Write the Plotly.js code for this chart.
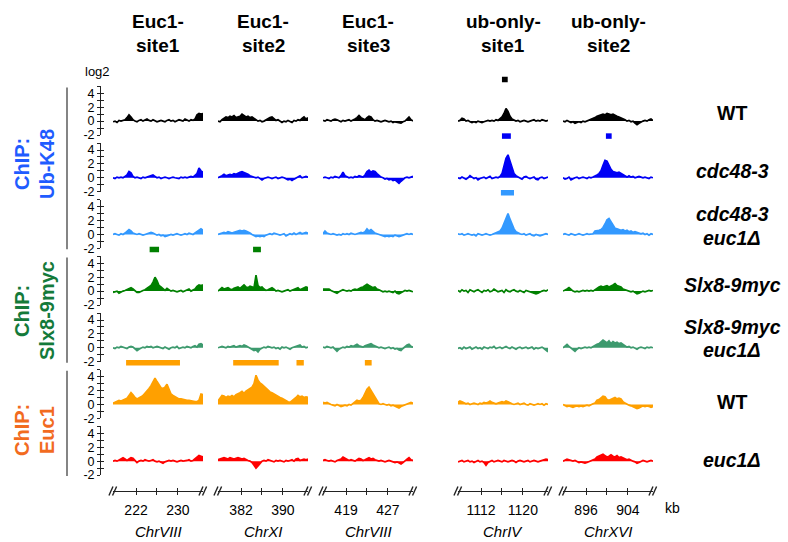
<!DOCTYPE html>
<html><head><meta charset="utf-8">
<script src="https://cdn.plot.ly/plotly-3.0.1.min.js"></script>
<style>html,body{margin:0;padding:0;background:#fff}#chart{width:788px;height:542px}</style>
</head><body><div id="chart"></div>
<script>
// ---------- data ----------
const siteHeadTop = ['Euc1-','Euc1-','Euc1-','ub-only-','ub-only-'];
const siteHeadBottom = ['site1','site2','site3','site1','site2'];
const chromosomes = ['ChrVIII','ChrXI','ChrVIII','ChrIV','ChrXVI'];
const tickLow  = [222, 382, 419, 1112, 896];
const tickHigh = [230, 390, 427, 1120, 904];
const windowStart = [217.6, 377.6, 414.6, 1107.6, 891.6];
const windowEnd   = [234.8, 394.8, 431.8, 1124.8, 908.8];

const trackLabels = [['WT'],['cdc48-3'],['cdc48-3','euc1Δ'],['Slx8-9myc'],['Slx8-9myc','euc1Δ'],['WT'],['euc1Δ']];
const trackItalic = [false,true,true,true,true,false,true];
const trackColors = ['#000000','#0000f5','#3399ff','#008000','#3d9a6e','#ffa000','#ff0000'];
const groupLabels = [['ChIP:','Ub-K48'],['ChIP:','Slx8-9myc'],['ChIP:','Euc1']];
const groupColors = ['#1f5cff','#147a3a','#f26b1f'];

// log2 ChIP signal per track, one array per site (site1..site5 order as above)
const ub_WT = [
 [-0.1,0.0,-0.2,0.1,0.0,0.1,0.2,0.5,0.9,0.6,0.2,0.0,-0.1,0.1,0.2,0.0,0.1,0.3,0.1,0.0,0.2,0.1,-0.1,0.0,0.1,0.0,-0.1,0.1,0.2,0.0,0.1,-0.1,0.0,0.2,0.1,0.0,0.3,0.1,0.0,0.2,0.1,0.3,0.9,1.1,1.0,1.1],
 [0.0,-0.1,0.2,0.4,0.6,0.5,0.7,0.6,0.8,0.5,0.6,0.7,1.0,0.8,0.6,0.7,0.5,0.6,0.4,0.2,0.0,0.1,-0.1,0.0,0.2,0.4,0.5,0.6,0.3,0.1,0.2,0.0,-0.2,0.0,-0.1,0.1,0.0,-0.2,0.1,0.0,0.2,0.1,0.4,0.6,0.3,0.5],
 [0.1,0.0,0.2,0.1,0.0,0.2,0.3,0.2,0.0,-0.1,0.1,0.0,0.1,0.2,0.0,0.1,0.3,0.5,0.8,0.5,0.3,0.2,0.5,0.7,0.6,0.2,0.0,0.1,0.0,-0.1,0.0,0.1,0.0,-0.1,0.0,-0.2,-0.1,-0.2,-0.3,-0.3,-0.1,0.0,0.3,0.6,0.2,0.0],
 [0.0,0.1,0.4,0.3,0.0,0.1,-0.1,-0.2,-0.1,-0.2,0.0,-0.1,-0.2,-0.1,0.0,0.1,0.0,0.1,0.0,0.2,0.1,0.3,0.6,1.1,1.8,1.4,0.7,0.3,0.1,0.0,0.1,-0.1,0.0,0.1,0.0,-0.1,0.0,0.1,0.2,0.0,0.1,0.0,0.2,0.1,0.0,0.1],
 [0.0,-0.1,0.1,0.0,-0.2,-0.1,-0.3,-0.2,-0.1,-0.2,0.0,-0.1,0.0,0.1,0.2,0.4,0.5,0.7,0.8,0.9,1.0,0.9,1.1,1.0,0.9,1.0,0.8,0.7,0.6,0.5,0.3,0.2,0.0,0.1,-0.1,0.0,-0.3,-0.5,-0.3,-0.1,0.0,0.1,0.0,0.2,0.3,0.1]
];
const ub_cdc48 = [
 [0.0,-0.1,0.1,0.0,0.1,0.0,0.2,0.4,0.9,0.7,0.2,0.0,0.1,0.0,-0.1,0.1,0.0,0.1,0.2,0.3,0.4,0.2,0.0,0.1,-0.1,0.0,0.1,0.0,-0.1,0.0,0.1,0.0,0.0,-0.1,0.1,0.0,0.1,0.0,0.1,0.2,0.1,0.3,0.6,1.4,1.0,0.8],
 [0.0,0.1,0.3,0.5,0.3,0.4,0.5,0.4,0.6,0.5,0.7,0.8,0.9,0.8,0.6,0.5,0.3,0.2,0.1,0.0,0.1,-0.1,-0.3,-0.1,0.0,0.1,0.0,-0.1,0.0,0.1,-0.1,0.0,0.1,0.0,-0.2,-0.3,-0.2,-0.4,-0.2,0.0,0.1,0.3,0.0,0.1,0.2,0.1],
 [0.0,0.1,0.0,-0.1,0.1,0.0,0.2,0.1,0.0,0.3,0.8,0.3,0.1,0.0,0.1,0.0,0.2,0.1,0.3,0.2,0.1,0.4,0.9,1.1,0.8,1.0,0.9,0.6,0.3,0.1,0.0,-0.2,-0.1,-0.3,-0.2,-0.4,-0.3,-0.6,-0.8,-0.5,-0.2,0.0,0.1,0.0,0.1,0.2],
 [0.0,-0.1,0.1,0.0,-0.2,0.0,0.3,0.1,-0.1,0.0,-0.3,-0.1,0.0,0.1,-0.1,0.0,0.2,-0.1,0.0,0.1,0.0,0.2,0.6,1.6,2.8,3.3,2.4,1.3,0.6,0.3,0.1,0.0,-0.2,0.1,0.2,0.0,-0.1,0.0,0.1,-0.2,-0.3,0.0,0.1,-0.1,0.0,0.1],
 [0.0,-0.2,-0.1,0.1,-0.3,-0.1,0.0,0.1,-0.1,0.0,0.1,0.0,-0.1,0.1,0.0,0.1,0.2,0.4,0.6,1.0,1.8,2.5,2.4,1.7,1.2,0.9,0.8,0.7,0.8,0.6,0.4,0.2,0.1,0.3,0.1,0.2,0.0,0.1,0.2,0.1,0.0,0.1,0.0,-0.1,0.1,0.0]
];
const ub_cdc48_euc1 = [
 [0.0,0.1,0.0,-0.1,0.1,0.0,0.2,0.4,0.7,0.5,0.2,0.1,0.0,0.1,0.0,-0.1,0.0,0.1,0.2,0.3,0.2,0.0,-0.1,0.0,-0.2,-0.1,-0.3,-0.2,-0.1,0.0,-0.1,0.0,0.1,0.0,-0.1,0.0,0.1,0.0,0.2,0.1,0.0,0.2,0.4,0.7,0.8,0.6],
 [0.0,0.1,0.2,0.3,0.2,0.4,0.3,0.2,0.3,0.4,0.5,0.6,0.5,0.6,0.5,0.4,0.2,0.0,-0.2,-0.3,-0.2,-0.3,-0.2,-0.3,-0.1,0.0,0.1,0.0,0.2,0.1,0.0,-0.1,0.0,0.1,-0.2,0.0,0.1,0.0,0.2,0.0,0.1,0.3,0.1,0.2,0.3,0.2],
 [0.1,0.5,0.2,0.1,0.0,0.1,0.0,-0.1,0.0,-0.1,0.1,0.0,0.1,0.0,0.2,0.1,0.0,0.1,0.2,0.3,0.2,0.4,0.8,0.5,0.7,0.4,0.2,0.1,0.0,-0.1,-0.2,-0.3,-0.2,-0.3,-0.2,-0.3,-0.1,-0.2,-0.3,-0.2,-0.1,0.0,0.1,0.0,0.1,0.0],
 [0.1,0.0,0.1,-0.1,0.0,0.1,0.0,-0.1,0.0,-0.2,0.1,0.0,-0.1,0.0,0.1,0.0,-0.1,0.0,0.1,0.2,0.3,0.5,0.9,1.6,2.5,3.0,2.2,1.4,0.8,0.4,0.2,0.1,0.0,0.1,-0.1,0.0,0.1,-0.1,-0.2,0.0,-0.1,-0.2,-0.1,0.0,0.1,0.0],
 [0.0,0.1,0.0,-0.1,0.1,0.0,-0.1,0.0,0.1,0.0,-0.1,0.0,0.1,0.0,0.0,0.1,0.5,0.5,0.6,0.7,1.0,1.5,2.1,2.3,1.8,1.2,0.9,0.8,0.7,0.6,0.7,0.5,0.6,0.4,0.5,0.3,0.4,0.3,0.2,0.1,0.2,0.0,0.1,-0.1,0.1,0.0]
];
const slx8 = [
 [-0.2,-0.1,0.0,-0.3,-0.1,0.0,0.1,0.2,0.3,0.5,0.3,0.0,-0.2,-0.2,0.0,0.1,0.2,0.4,0.6,0.8,1.3,2.0,1.5,0.8,0.6,0.3,0.1,0.4,0.2,0.0,0.1,0.0,-0.1,0.0,0.1,-0.1,0.0,0.1,0.3,0.0,0.2,0.3,0.7,0.9,0.8,0.9],
 [0.0,0.3,0.5,0.3,0.4,0.5,0.3,0.2,0.4,0.5,0.6,0.4,0.7,0.9,0.6,0.5,0.7,0.6,0.5,2.3,0.8,0.5,0.6,0.3,0.1,0.2,0.4,0.5,0.3,0.0,0.1,0.0,-0.1,0.0,0.1,0.2,0.0,0.1,0.3,0.4,0.5,0.2,0.3,0.5,0.6,0.5],
 [0.3,0.3,0.2,0.3,0.1,0.0,-0.1,-0.3,-0.1,0.0,0.2,0.1,0.0,0.1,0.0,0.2,0.3,0.2,0.4,0.5,0.6,0.8,1.0,0.8,0.7,0.5,0.6,0.3,0.2,0.0,-0.1,0.0,-0.1,0.0,-0.1,-0.2,0.0,-0.3,-0.4,-0.2,0.0,0.1,0.0,0.1,0.0,-0.1],
 [0.1,-0.1,0.2,0.0,0.1,-0.2,0.2,0.0,-0.1,0.1,0.2,0.0,-0.2,0.1,0.0,0.2,-0.1,0.0,0.3,0.1,-0.1,0.0,0.1,-0.2,0.2,0.0,-0.1,0.1,0.2,0.0,-0.1,0.1,0.0,-0.2,0.1,0.0,-0.1,-0.2,-0.3,-0.4,-0.3,-0.1,0.0,0.1,0.0,0.2],
 [0.0,0.1,0.3,0.5,0.2,0.0,-0.1,0.0,-0.1,0.0,0.1,0.0,0.1,0.0,0.1,0.0,0.2,0.5,0.6,0.7,0.6,0.7,0.8,0.6,0.7,0.9,1.1,0.8,0.7,0.6,0.3,0.2,0.1,0.0,-0.1,0.0,-0.2,-0.4,-0.3,-0.1,0.0,-0.1,0.0,0.1,0.0,0.1]
];
const slx8_euc1 = [
 [0.0,-0.1,0.1,0.0,0.2,0.1,0.0,-0.1,0.1,0.2,0.1,-0.1,-0.4,-0.2,0.0,0.1,0.0,0.2,0.1,0.2,0.0,0.1,0.2,0.1,0.0,-0.1,0.1,0.0,-0.2,0.0,0.1,0.0,0.2,-0.1,0.0,0.1,0.0,0.2,0.1,0.0,0.2,0.3,0.1,0.5,0.6,0.4],
 [0.0,0.1,0.2,0.1,0.0,0.2,0.1,0.2,0.3,0.1,0.2,0.3,0.2,0.4,0.3,0.1,0.0,-0.2,-0.4,-0.3,-0.6,-0.2,0.0,0.1,0.0,0.2,0.1,0.0,0.1,-0.1,0.0,-0.2,0.1,0.0,0.1,0.0,-0.2,0.0,0.1,0.2,0.3,0.4,0.1,0.2,0.0,0.1],
 [0.1,0.0,0.2,0.1,0.0,0.1,-0.2,-0.5,-0.2,0.0,0.1,0.0,0.2,0.1,0.3,0.2,0.3,0.5,0.3,0.2,0.1,0.3,0.4,0.5,0.6,0.4,0.3,0.1,0.0,0.1,0.0,-0.1,0.0,0.1,-0.1,0.0,-0.2,-0.1,-0.3,-0.4,-0.1,0.2,0.4,0.5,0.2,0.1],
 [-0.1,0.0,-0.2,0.1,-0.1,0.0,0.1,-0.2,0.0,0.1,-0.1,0.0,-0.2,0.1,0.0,-0.1,0.1,0.0,0.2,-0.1,0.0,0.1,-0.1,0.0,0.2,0.0,-0.1,0.1,0.0,-0.2,0.0,0.1,-0.1,0.0,0.1,-0.1,0.0,0.1,-0.2,0.0,-0.1,0.0,0.1,-0.1,-0.3,-0.6],
 [0.0,0.2,0.5,0.2,0.0,-0.2,-0.5,-0.2,0.0,-0.1,0.0,0.1,0.0,0.1,0.0,0.2,0.3,0.5,0.6,0.8,1.1,0.9,0.7,1.0,0.6,0.9,0.7,0.8,0.6,0.7,0.5,0.3,0.1,0.2,0.0,0.1,-0.1,-0.2,0.0,0.1,0.0,-0.1,0.1,0.0,0.1,0.0]
];
const euc1_WT = [
 [0.2,0.3,0.4,0.6,0.5,0.6,0.7,0.9,1.3,1.7,1.4,1.0,0.8,0.9,1.1,1.3,1.6,1.9,2.3,2.7,3.2,3.8,3.3,2.9,2.4,2.3,2.5,2.9,2.2,1.5,1.3,1.1,0.9,0.8,0.8,0.7,0.6,0.6,0.6,0.5,0.5,0.4,0.4,0.6,1.5,1.4],
 [0.5,0.9,1.3,1.2,1.0,1.2,1.1,1.3,1.1,1.4,1.5,1.7,1.9,1.6,1.9,2.1,2.2,2.5,3.0,4.2,3.5,3.1,2.9,2.6,2.3,2.0,1.8,1.7,1.5,1.3,1.1,1.0,0.9,0.7,0.5,0.4,0.3,0.5,0.8,1.0,1.3,1.1,1.2,1.0,1.1,1.0],
 [0.3,0.2,0.3,0.1,0.0,-0.1,-0.2,0.0,-0.1,-0.3,-0.2,-0.1,-0.2,0.0,-0.1,0.1,0.3,0.6,0.5,0.6,1.0,1.6,2.2,2.5,2.0,1.4,1.0,0.4,0.1,0.0,0.1,0.0,-0.1,0.0,-0.2,-0.1,-0.2,-0.3,-0.5,-0.3,-0.2,-0.1,0.0,0.1,0.3,0.2],
 [0.3,0.5,0.4,0.2,0.1,0.2,0.0,0.1,0.2,0.1,0.0,0.2,0.1,0.3,0.2,0.3,0.5,0.3,0.2,0.1,0.2,0.3,0.4,0.3,0.5,0.4,0.2,0.1,0.0,0.1,0.2,0.0,0.1,0.2,0.0,-0.1,0.1,0.0,-0.1,0.0,0.1,0.0,0.1,-0.1,0.1,0.0],
 [0.0,-0.1,-0.3,-0.2,-0.3,-0.4,-0.3,-0.2,-0.3,-0.2,-0.3,-0.2,-0.1,-0.2,0.0,0.1,0.2,0.6,0.7,1.0,1.2,1.1,0.7,0.6,0.7,0.9,1.0,0.8,0.9,0.8,0.4,0.2,0.0,-0.1,-0.2,-0.3,-0.4,-0.6,-0.5,-0.3,-0.2,-0.3,-0.2,-0.3,-0.4,-0.3]
];
const euc1_euc1 = [
 [0.0,0.1,0.0,0.2,0.3,0.5,0.3,0.1,0.3,0.5,0.4,0.1,-0.2,0.0,0.1,0.0,0.2,0.1,0.0,0.1,0.2,0.0,-0.1,0.0,-0.2,-0.3,-0.1,0.0,0.1,0.0,0.1,0.0,-0.1,0.0,0.1,0.0,0.0,0.1,0.2,0.0,0.1,0.3,0.5,0.8,0.7,0.6],
 [0.2,0.3,0.4,0.5,0.4,0.3,0.5,0.4,0.3,0.4,0.5,0.4,0.3,0.4,0.2,0.1,0.0,-0.2,-0.6,-1.0,-0.7,-0.3,0.0,0.1,0.0,0.2,0.1,0.0,-0.1,0.1,0.0,0.1,0.0,-0.1,0.1,0.0,0.1,0.2,0.0,0.3,0.4,0.1,0.2,0.3,0.2,0.3],
 [0.1,0.2,0.1,0.0,0.1,0.0,-0.1,0.1,0.2,0.3,0.6,0.4,0.2,0.1,0.2,0.1,0.0,0.2,0.4,0.3,0.1,0.2,0.4,0.5,0.3,0.4,0.2,0.1,0.0,0.1,0.0,-0.1,0.0,0.1,0.0,-0.1,-0.2,-0.1,-0.3,-0.4,-0.2,0.1,0.3,0.5,0.2,0.1],
 [-0.1,0.0,0.1,-0.1,0.0,0.1,-0.1,0.0,-0.2,0.0,0.1,-0.1,0.0,-0.2,-0.6,-0.2,0.0,0.1,-0.1,0.0,0.1,0.0,-0.1,0.1,0.0,-0.1,0.0,0.1,0.0,-0.2,0.0,0.1,0.0,-0.1,0.0,0.1,-0.1,0.0,0.1,0.0,-0.1,0.0,0.1,0.2,0.3,0.2],
 [0.0,0.1,0.3,0.2,0.1,0.0,0.1,-0.1,-0.2,-0.1,-0.2,-0.3,-0.2,-0.1,0.0,0.1,0.3,0.6,0.7,0.8,1.0,0.8,0.6,0.7,0.9,0.7,0.6,0.8,0.5,0.6,0.5,0.4,0.2,0.3,0.1,0.0,-0.1,-0.3,-0.2,0.0,0.1,0.0,-0.1,0.0,0.1,0.0]
];
const tracks = [ub_WT, ub_cdc48, ub_cdc48_euc1, slx8, slx8_euc1, euc1_WT, euc1_euc1];

// enriched regions (kb)
const regionTrack = [0, 1, 1, 2, 3, 3, 5, 5, 5, 5];
const regionSite  = [3, 3, 4, 3, 0, 1, 0, 1, 1, 2];
const regionStart = [1116.0, 1116.0, 899.8, 1115.8, 224.6, 384.3, 220.1, 380.5, 392.6, 422.6];
const regionEnd   = [1117.1, 1117.7, 900.9, 1118.3, 226.4, 385.8, 230.4, 389.2, 394.0, 423.9];

// ---------- layout geometry (pixels) ----------
const W = 788, H = 542;
const colLeft = [113, 218, 323, 458, 563], colWidth = 90;
const rowTop = r => 86.4 + 56.67 * r;   // y = 5
const rowBot = r => 135 + 56.67 * r;    // y = -2
const yAxisX = 100, xAxisY = 491;
const px = x => x / W, py = y => 1 - y / H;
const xid = c => c === 0 ? 'x' : 'x' + (c + 1);
const yid = r => r === 0 ? 'y' : 'y' + (r + 1);
const FONT = 'Liberation Sans, Arial, Helvetica, sans-serif';
const axColor = '#222';

const layout = {
  width: W, height: H, margin: {l: 0, r: 0, t: 0, b: 0},
  paper_bgcolor: '#fff', plot_bgcolor: 'rgba(0,0,0,0)', showlegend: false,
  barmode: 'overlay', hovermode: false,
  font: {family: FONT, color: '#000'},
  annotations: [], shapes: []
};

const data = [];
const nRows = tracks.length, nCols = colLeft.length;

for (let c = 0; c < nCols; c++) {
  const tv = [tickLow[c], (tickLow[c] + tickHigh[c]) / 2, tickHigh[c]];
  const tt = [String(tickLow[c]), '', String(tickHigh[c])];
  layout['xaxis' + (c + 1)] = {
    domain: [px(colLeft[c]), px(colLeft[c] + colWidth)], range: [windowStart[c], windowEnd[c]],
    anchor: 'free', position: py(xAxisY), showline: true, linecolor: axColor, linewidth: 1,
    ticks: 'outside', ticklen: 3, tickcolor: axColor, tickwidth: 1, tickvals: tv, ticktext: tt,
    tickfont: {size: 14, family: FONT, color: '#000'}, ticklabelstandoff: 3,
    showgrid: false, zeroline: false, fixedrange: true
  };
  layout['xaxis' + (c + 6)] = {
    overlaying: xid(c), anchor: 'free', position: py(xAxisY), range: [windowStart[c], windowEnd[c]],
    ticks: 'inside', ticklen: 3, tickcolor: axColor, tickwidth: 1, tickvals: tv, showticklabels: false,
    showline: false, showgrid: false, zeroline: false, fixedrange: true
  };
  data.push({type: 'scatter', mode: 'markers', x: [windowStart[c]], y: [0], xaxis: 'x' + (c + 6), yaxis: 'y',
             marker: {opacity: 0, size: 1}, hoverinfo: 'skip'});
  // break marks "//" at both ends
  const ya = py(xAxisY - 4.5), yb = py(xAxisY + 4.5);
  [-0.045, -0.005, 0.955, 0.995].forEach(d => {
    layout.shapes.push({type: 'line', xref: xid(c) + ' domain', yref: 'paper',
      x0: d, x1: d + 0.045, y0: yb, y1: ya, line: {color: axColor, width: 1.4}});
  });
}

const yTickVals = [-2, -1, 0, 1, 2, 3, 4, 5];
const yTickText = ['-2', '', '0', '', '2', '', '4', ''];
for (let r = 0; r < nRows; r++) {
  layout['yaxis' + (r + 1)] = {
    domain: [py(rowBot(r)), py(rowTop(r))], range: [-2, 5], anchor: 'free', position: px(yAxisX),
    showline: true, linecolor: axColor, linewidth: 1, ticks: 'outside', ticklen: 3, tickcolor: axColor,
    tickvals: yTickVals, ticktext: yTickText, tickfont: {size: 12.5, family: FONT, color: '#000'},
    showgrid: false, zeroline: false, fixedrange: true
  };
  layout['yaxis' + (r + 8)] = {
    overlaying: yid(r), anchor: 'free', position: px(yAxisX), range: [-2, 5],
    ticks: 'inside', ticklen: 3, tickcolor: axColor, tickvals: yTickVals, showticklabels: false,
    showline: false, showgrid: false, zeroline: false, fixedrange: true
  };
  data.push({type: 'scatter', mode: 'markers', x: [windowStart[0]], y: [0], xaxis: 'x', yaxis: 'y' + (r + 8),
             marker: {opacity: 0, size: 1}, hoverinfo: 'skip'});
  // strip axis for enriched-region bars
  layout['yaxis' + (r + 15)] = {
    domain: [py(rowTop(r) - 2), py(rowTop(r) - 12)], range: [0, 1], visible: false, fixedrange: true
  };
  for (let c = 0; c < nCols; c++) {
    const vals = tracks[r][c];
    const n = vals.length, step = (windowEnd[c] - windowStart[c]) / (n - 1);
    const xs = vals.map((v, i) => windowStart[c] + i * step);
    data.push({type: 'scatter', mode: 'lines', x: xs, y: vals, xaxis: xid(c), yaxis: yid(r),
      line: {color: trackColors[r], width: 1.7}, fill: 'tozeroy', fillcolor: trackColors[r], hoverinfo: 'skip'});
  }
}

for (let k = 0; k < regionStart.length; k++) {
  const r = regionTrack[k], c = regionSite[k];
  data.push({type: 'bar', orientation: 'h', y: [0.5], x: [regionEnd[k] - regionStart[k]], base: [regionStart[k]],
    width: [0.55], xaxis: xid(c), yaxis: 'y' + (r + 15), marker: {color: trackColors[r], line: {width: 0}},
    hoverinfo: 'skip'});
}

// ---------- text ----------
function ann(x, y, text, opts) {
  layout.annotations.push(Object.assign({xref: 'paper', yref: 'paper', x: px(x), y: py(y), text: text,
    showarrow: false, xanchor: 'center', yanchor: 'middle'}, opts || {}));
}
for (let c = 0; c < nCols; c++) {
  const cx = colLeft[c] + colWidth / 2;
  ann(cx, 21, siteHeadTop[c], {font: {size: 19, weight: 700, family: FONT, color: '#000'}});
  ann(cx, 46, siteHeadBottom[c], {font: {size: 19, weight: 700, family: FONT, color: '#000'}});
  ann(cx, 531, chromosomes[c], {font: {size: 15, style: 'italic', family: FONT, color: '#000'}});
}
ann(97, 72, 'log2', {font: {size: 13, family: FONT, color: '#000'}});
ann(672, 508, 'kb', {font: {size: 14, family: FONT, color: '#000'}});

const labelY = [[113], [171], [214, 238], [285], [327, 350], [402], [460]];
for (let r = 0; r < nRows; r++) {
  trackLabels[r].forEach((t, i) => {
    ann(732, labelY[r][i], t, {font: {size: 19.5, weight: 700, style: trackItalic[r] ? 'italic' : 'normal',
      family: FONT, color: '#000'}});
  });
}

const groupRows = [[0, 2], [3, 4], [5, 6]];
for (let g = 0; g < 3; g++) {
  const top = rowTop(groupRows[g][0]), bot = rowBot(groupRows[g][1]);
  const cy = [164, 311, 430][g];
  ann(22, cy, groupLabels[g][0], {textangle: -90, font: {size: 20, weight: 700, family: FONT, color: groupColors[g]}});
  ann(47, cy, groupLabels[g][1], {textangle: -90, font: {size: 20, weight: 700, family: FONT, color: groupColors[g]}});
  layout.shapes.push({type: 'line', xref: 'paper', yref: 'paper', x0: px(67), x1: px(67),
    y0: py(top + 1), y1: py(bot + 1), line: {color: '#333', width: 1.2}});
}

Plotly.newPlot('chart', data, layout, {staticPlot: true, displayModeBar: false});
</script>
</body></html>
